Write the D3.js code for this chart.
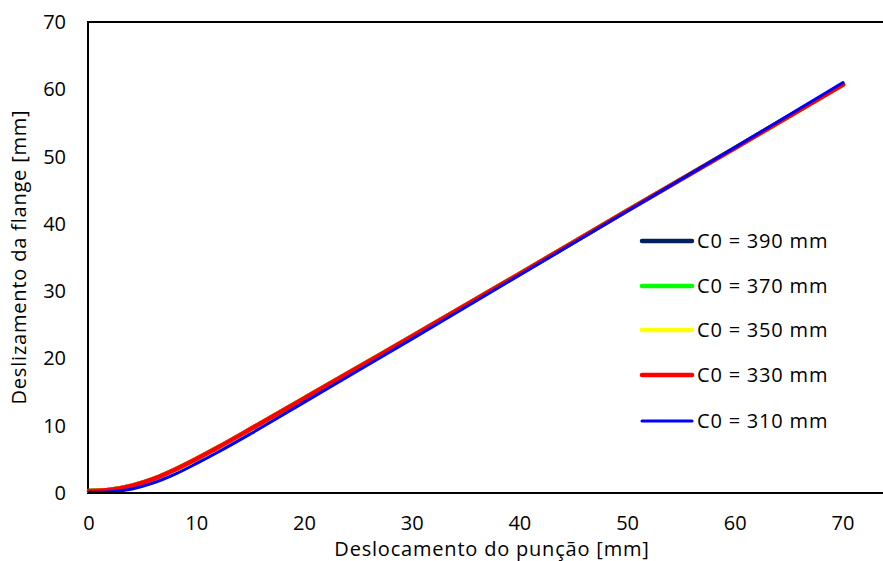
<!DOCTYPE html>
<html>
<head>
<meta charset="utf-8">
<script src="https://cdn.jsdelivr.net/npm/d3@7"></script>
<style>
  body { margin: 0; background: #fff; }
  text { font-family: "Open Sans", sans-serif; fill: #000; }
</style>
</head>
<body>
<div id="chart"></div>
<script>
// values
const xs = [0, 2, 4, 6, 8, 10, 12, 15, 20, 25, 30, 40, 50, 60, 70];
const c390 = [0.3, 0.5, 1.1, 2.1, 3.5, 5.1, 6.8, 9.5, 14.1, 18.7, 23.3, 32.6, 42.0, 51.3, 60.7];
const c370 = [0.3, 0.5, 1.1, 2.1, 3.5, 5.1, 6.8, 9.5, 14.1, 18.7, 23.3, 32.6, 42.0, 51.3, 60.7];
const c350 = [0.3, 0.5, 1.1, 2.1, 3.5, 5.1, 6.8, 9.5, 14.1, 18.7, 23.3, 32.6, 42.0, 51.3, 60.7];
const c330 = [0.3, 0.5, 1.1, 2.1, 3.5, 5.1, 6.8, 9.5, 14.1, 18.7, 23.3, 32.6, 42.0, 51.3, 60.7];
const c310 = [0.1, 0.2, 0.6, 1.5, 2.8, 4.4, 6.1, 8.8, 13.5, 18.2, 22.9, 32.4, 41.9, 51.4, 61.0];

const seriesNames = ["C0 = 390 mm", "C0 = 370 mm", "C0 = 350 mm", "C0 = 330 mm", "C0 = 310 mm"];
const seriesColors = ["#002060", "#00ff00", "#ffff00", "#ff0000", "#0000ff"];
const seriesWidths = [4.5, 4.5, 4.5, 4.5, 3];
const allSeries = [c390, c370, c350, c330, c310];
const xTicks = [0, 10, 20, 30, 40, 50, 60, 70];
const yTicks = [0, 10, 20, 30, 40, 50, 60, 70];

const W = 883, H = 561;
const svg = d3.select("#chart").append("svg")
  .attr("width", W).attr("height", H);

// x: 0 -> 89px, 70 -> 843px ; plot is cut at the right edge
const x = d3.scaleLinear().domain([0, 70]).range([89, 843]);
const y = d3.scaleLinear().domain([0, 70]).range([493, 22]);

// frame: left, top, bottom (no right border)
svg.append("line").attr("x1", 88).attr("x2", 88).attr("y1", 21).attr("y2", 494)
  .attr("stroke", "#000").attr("stroke-width", 2);
svg.append("line").attr("x1", 88).attr("x2", W).attr("y1", 22).attr("y2", 22)
  .attr("stroke", "#000").attr("stroke-width", 2);

// tick labels
svg.append("g").selectAll("text").data(xTicks).join("text")
  .attr("x", d => x(d)).attr("y", 530)
  .attr("text-anchor", "middle").style("font-size", "20px")
  .text(d => d);
svg.append("g").selectAll("text").data(yTicks).join("text")
  .attr("x", 66).attr("y", d => y(d) + 7)
  .attr("text-anchor", "end").style("font-size", "20px")
  .text(d => d);

// curves
const line = d3.line()
  .x((d, i) => x(xs[i]))
  .y(d => y(d))
  .curve(d3.curveMonotoneX);

allSeries.forEach((s, k) => {
  svg.append("path")
    .datum(s)
    .attr("d", line)
    .attr("fill", "none")
    .attr("stroke", seriesColors[k])
    .attr("stroke-width", seriesWidths[k])
    .attr("stroke-linecap", "round");
});

// bottom axis line on top of the curves
svg.append("line").attr("x1", 88).attr("x2", W).attr("y1", 493).attr("y2", 493)
  .attr("stroke", "#000").attr("stroke-width", 2);

// legend
const legendY = [241, 286, 330, 375, 421];
const lg = svg.append("g");
seriesNames.forEach((n, k) => {
  lg.append("line")
    .attr("x1", 642).attr("x2", 692)
    .attr("y1", legendY[k]).attr("y2", legendY[k])
    .attr("stroke", seriesColors[k])
    .attr("stroke-width", k === 4 ? 3 : 4.5)
    .attr("stroke-linecap", "round");
  lg.append("text")
    .attr("x", 697).attr("y", legendY[k] + 7)
    .style("font-size", "20px")
    .style("letter-spacing", "0.8px")
    .text(n);
});

// axis titles
svg.append("text")
  .attr("x", 492).attr("y", 556)
  .attr("text-anchor", "middle").style("font-size", "20px")
  .style("letter-spacing", "0.8px")
  .text("Deslocamento do punção [mm]");
svg.append("text")
  .attr("transform", "translate(26,257) rotate(-90)")
  .attr("text-anchor", "middle").style("font-size", "20px")
  .style("letter-spacing", "0.8px")
  .text("Deslizamento da flange [mm]");
</script>
</body>
</html>
